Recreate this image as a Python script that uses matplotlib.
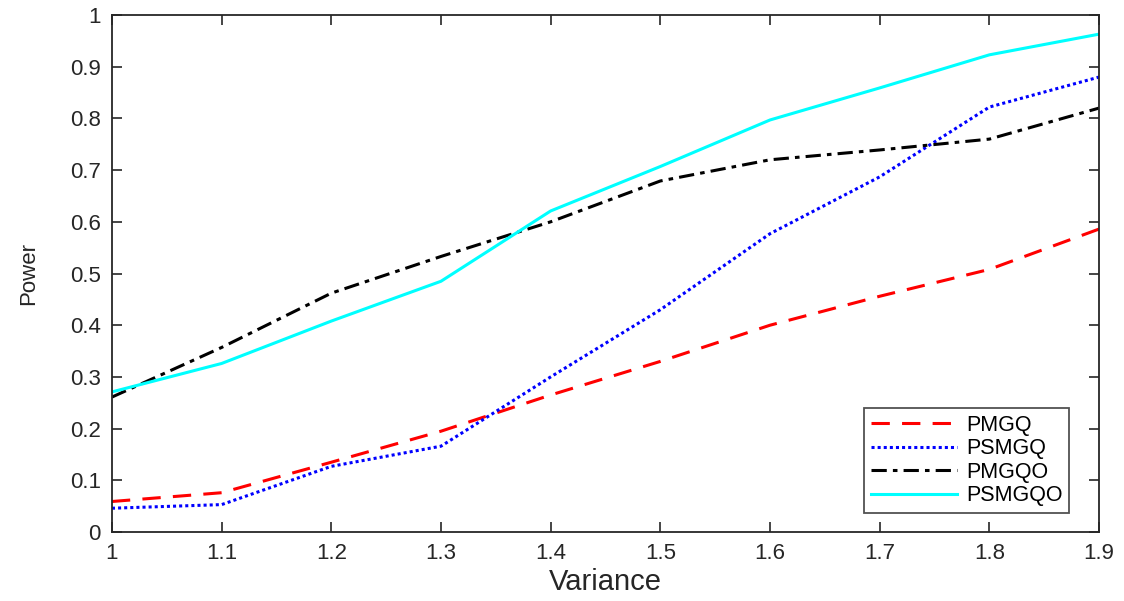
import matplotlib.pyplot as plt
import numpy as np

plt.rcParams['font.family'] = ['Liberation Sans', 'DejaVu Sans']

variance = [1.0, 1.1, 1.2, 1.3, 1.4, 1.5, 1.6, 1.7, 1.8, 1.9]

pmgq = [0.059, 0.076, 0.135, 0.195, 0.265, 0.33, 0.40, 0.456, 0.508, 0.586]
psmgq = [0.046, 0.053, 0.127, 0.166, 0.30, 0.43, 0.577, 0.687, 0.822, 0.88]
pmgqo = [0.261, 0.357, 0.462, 0.533, 0.60, 0.679, 0.72, 0.739, 0.76, 0.82]
psmgqo = [0.271, 0.326, 0.408, 0.485, 0.621, 0.707, 0.797, 0.859, 0.923, 0.963]

fig = plt.figure(figsize=(11.24, 6.01), dpi=100)
ax = fig.add_axes([0.0996, 0.1148, 0.8782, 0.8602])

lw = 2.2
ax.plot(variance, pmgq, color='red', ls=(0, (6, 4)), lw=lw, label='PMGQ')
ax.plot(variance, psmgq, color='blue', ls=(0, (1, 1)), lw=lw, label='PSMGQ')
ax.plot(variance, pmgqo, color='black', ls=(0, (5, 2, 1.5, 2)), lw=lw, label='PMGQO')
ax.plot(variance, psmgqo, color='cyan', ls='-', lw=lw, label='PSMGQO')

ax.set_xlim(1, 1.9)
ax.set_ylim(0, 1)
ax.set_xticks(np.arange(1, 1.91, 0.1))
ax.set_xticklabels(['1', '1.1', '1.2', '1.3', '1.4', '1.5', '1.6', '1.7', '1.8', '1.9'])
ax.set_yticks(np.arange(0, 1.01, 0.1))
ax.set_yticklabels(['0', '0.1', '0.2', '0.3', '0.4', '0.5', '0.6', '0.7', '0.8', '0.9', '1'])

ax.tick_params(direction='in', top=True, right=True, length=7, width=1.2,
               colors='#262626', labelsize=16, pad=8)
for s in ax.spines.values():
    s.set_color('#262626')
    s.set_linewidth(1.3)

ax.set_xlabel('Variance', fontsize=21, color='#262626', labelpad=3)
ax.set_ylabel('Power', fontsize=16, color='#262626', labelpad=22)

leg = ax.legend(loc='lower right', bbox_to_anchor=(0.97, 0.037), fontsize=15.5,
                frameon=True, fancybox=False, edgecolor='#262626',
                handlelength=4.0, borderpad=0.3, labelspacing=0.12,
                handletextpad=0.45, borderaxespad=0)
leg.get_frame().set_linewidth(1.3)

fig.savefig('out.png', dpi=100)
